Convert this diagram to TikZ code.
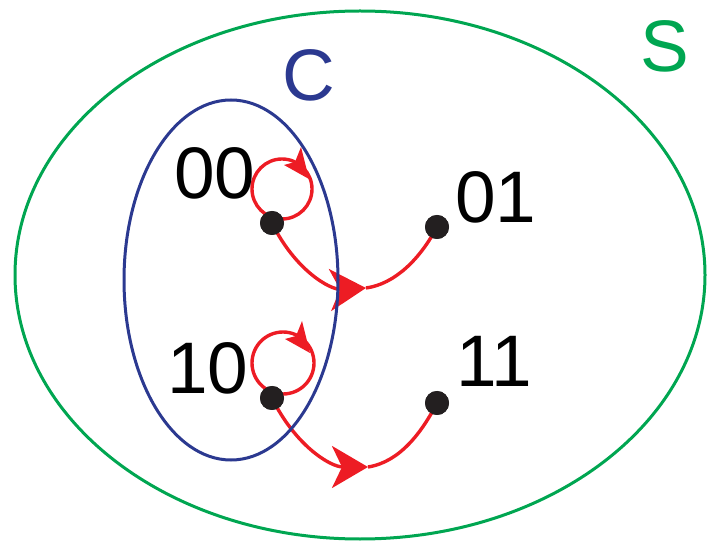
\documentclass[tikz,border=0pt]{standalone}
\usepackage{fontspec}
\setmainfont{Liberation Sans}
\usetikzlibrary{arrows.meta,calc,shapes.geometric}
\definecolor{sgreen}{RGB}{0,166,81}
\definecolor{cblue}{RGB}{43,57,144}
\definecolor{ared}{RGB}{237,28,36}
\definecolor{dotblack}{RGB}{35,31,32}
\tikzset{
  statedot/.style={circle,fill=dotblack,inner sep=0pt,minimum size=24pt},
  biglabel/.style={inner sep=0pt,font=\fontsize{73}{73}\selectfont},
  redline/.style={draw=ared,line width=3.4pt},
  setline/.style={line width=3pt,ellipse,inner sep=0pt},
  bigtip/.style={-{Stealth[length=36pt,width=42pt,inset=10pt]}},
}
\begin{document}
\begin{tikzpicture}[x=1pt,y=1pt]
\useasboundingbox (0,0) rectangle (707,544);
% state points
\node[statedot] (n00) at (272,321) {};
\node[statedot] (n01) at (437,317) {};
\node[statedot] (n10) at (272,146) {};
\node[statedot] (n11) at (437,141) {};
\coordinate (m1) at (366,256);
\coordinate (m2) at (368,77);
\coordinate (c00) at ($(n00.center)+(10,34)$);
\coordinate (c10) at ($(n10.center)+(11,35)$);
% red transitions
\draw[redline,bigtip] (n00.center) .. controls (295,274) and (330,254) .. (m1);
\draw[redline] (m1) .. controls (395,260) and (420,285) .. (n01.center);
\draw[redline,bigtip] (n10.center) .. controls (295,99) and (330,77) .. (m2);
\draw[redline] (m2) .. controls (400,82) and (422,112) .. (n11.center);
% self loops
\draw[redline] (c00) circle[radius=30pt];
\draw[redline] (c10) circle[radius=31pt];
\foreach \c in {c00,c10}
  \fill[ared] ($(\c)+(27,10)$) -- ($(\c)+(19,42)$) -- ($(\c)+(13,27)$) -- ($(\c)+(2,24)$) -- cycle;
% sets
\node[draw=sgreen,setline,minimum width=690pt,minimum height=528pt] (S) at (360,269) {};
\node[draw=cblue,setline,minimum width=214pt,minimum height=360pt] (C) at (231,264) {};
% dots on top
\fill[dotblack] (n00) circle[radius=12pt];
\fill[dotblack] (n01) circle[radius=12pt];
\fill[dotblack] (n10) circle[radius=12pt];
\fill[dotblack] (n11) circle[radius=12pt];
% labels
\node[biglabel] (l00) at (215,371) {00};
\node[biglabel] (l01) at (496,347) {01};
\node[biglabel] (l10) at (208,176) {10};
\node[biglabel] (l11) at (494,183) {11};
\node[biglabel,text=cblue] (lC) at (309,469) {C};
\node[biglabel,text=sgreen] (lS) at (665,498) {S};
\end{tikzpicture}
\end{document}
